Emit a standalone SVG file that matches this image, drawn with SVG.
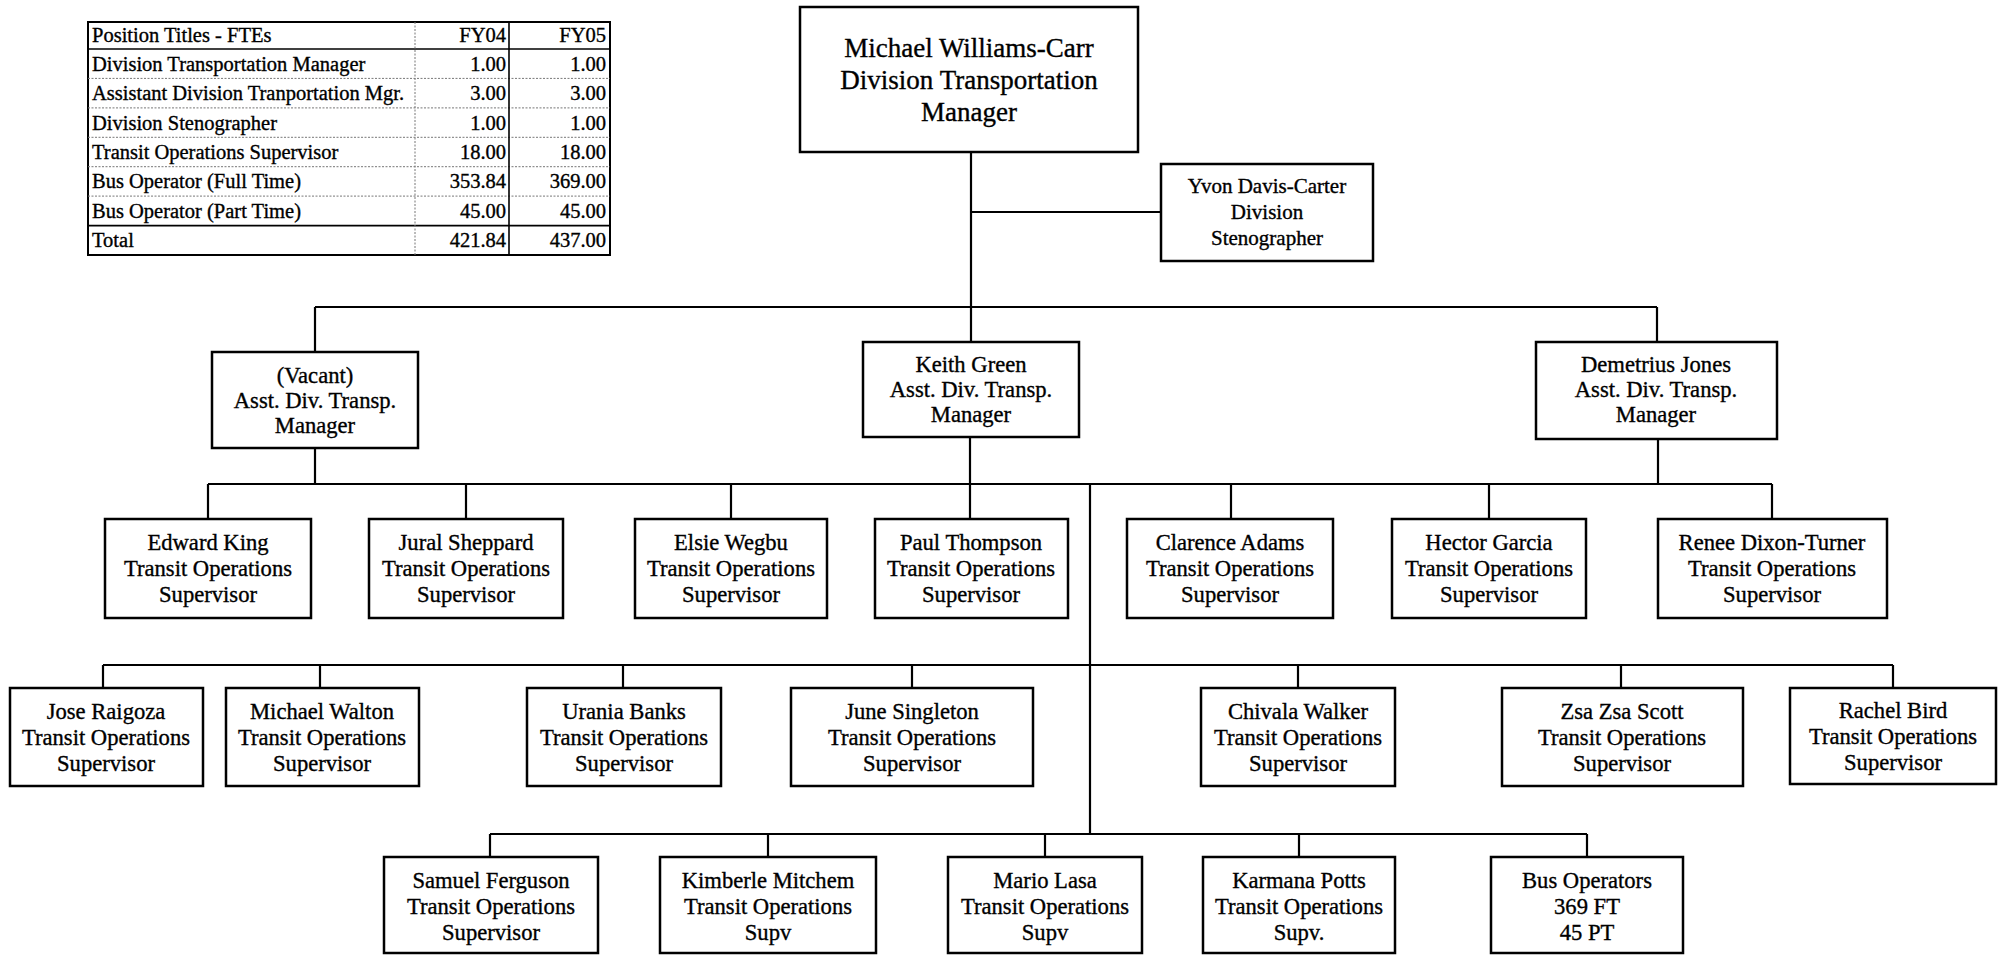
<svg xmlns="http://www.w3.org/2000/svg" width="2003" height="955" viewBox="0 0 2003 955">
<style>
text{font-family:"Liberation Serif","Times New Roman",serif;fill:#000;stroke:#000;stroke-width:0.35}
.n{font-size:22.6px;text-anchor:middle}
.top{font-size:27px;text-anchor:middle}
.st{font-size:21px;text-anchor:middle}
.t{font-size:20.5px}
.r{text-anchor:end}
.box{fill:#fff;stroke:#000;stroke-width:2.5}
.ln{stroke:#000;stroke-width:2.2;fill:none}
.dot{stroke:#777;stroke-width:1;stroke-dasharray:2 1.5;fill:none}
.sol{stroke:#000;stroke-width:1.6;fill:none}
</style>
<rect width="2003" height="955" fill="#fff"/>

<g id="fte-table">
<rect x="88" y="22" width="522" height="233" fill="#fff" stroke="#000" stroke-width="2"/>
<line class="sol" x1="88" y1="49" x2="610" y2="49"/>
<line class="dot" x1="88" y1="78.4" x2="610" y2="78.4"/>
<line class="dot" x1="88" y1="107.9" x2="610" y2="107.9"/>
<line class="dot" x1="88" y1="137.3" x2="610" y2="137.3"/>
<line class="dot" x1="88" y1="166.7" x2="610" y2="166.7"/>
<line class="dot" x1="88" y1="196.1" x2="610" y2="196.1"/>
<line class="sol" x1="88" y1="225.6" x2="610" y2="225.6"/>
<line class="dot" x1="415" y1="22" x2="415" y2="255"/>
<line class="sol" x1="509" y1="22" x2="509" y2="255"/>
<text class="t" x="92" y="42">Position Titles - FTEs</text>
<text class="t r" x="506" y="42">FY04</text>
<text class="t r" x="606" y="42">FY05</text>
<text class="t" x="92" y="71">Division Transportation Manager</text>
<text class="t r" x="506" y="71">1.00</text>
<text class="t r" x="606" y="71">1.00</text>
<text class="t" x="92" y="100">Assistant Division Tranportation Mgr.</text>
<text class="t r" x="506" y="100">3.00</text>
<text class="t r" x="606" y="100">3.00</text>
<text class="t" x="92" y="129.5">Division Stenographer</text>
<text class="t r" x="506" y="129.5">1.00</text>
<text class="t r" x="606" y="129.5">1.00</text>
<text class="t" x="92" y="159">Transit Operations Supervisor</text>
<text class="t r" x="506" y="159">18.00</text>
<text class="t r" x="606" y="159">18.00</text>
<text class="t" x="92" y="188">Bus Operator (Full Time)</text>
<text class="t r" x="506" y="188">353.84</text>
<text class="t r" x="606" y="188">369.00</text>
<text class="t" x="92" y="217.5">Bus Operator (Part Time)</text>
<text class="t r" x="506" y="217.5">45.00</text>
<text class="t r" x="606" y="217.5">45.00</text>
<text class="t" x="92" y="247">Total</text>
<text class="t r" x="506" y="247">421.84</text>
<text class="t r" x="606" y="247">437.00</text>
</g>

<g id="connectors">
<path class="ln" d="M971 152V342M971 212H1161"/>
<path class="ln" d="M315 307H1657M315 307V352M1657 307V342"/>
<path class="ln" d="M315 448V484M970 437V519M1658 439V484M208 484H1772"/>
<path class="ln" d="M208 484V519M466 484V519M731 484V519M1231 484V519M1489 484V519M1772 484V519"/>
<path class="ln" d="M1090 484V834"/>
<path class="ln" d="M103 665H1893M103 665V688M320 665V688M623 665V688M912 665V688M1298 665V688M1621 665V688M1893 665V688"/>
<path class="ln" d="M490 834H1587M490 834V857M768 834V857M1045 834V857M1299 834V857M1587 834V857"/>
</g>

<g id="n-williams-carr">
<rect class="box" x="800" y="7" width="338" height="145"/>
<text class="top" x="969" y="57">Michael Williams-Carr</text>
<text class="top" x="969" y="89">Division Transportation</text>
<text class="top" x="969" y="121">Manager</text>
</g>
<g id="n-davis-carter">
<rect class="box" x="1161" y="164" width="212" height="97"/>
<text class="st" x="1267" y="193">Yvon Davis-Carter</text>
<text class="st" x="1267" y="219">Division</text>
<text class="st" x="1267" y="245">Stenographer</text>
</g>

<g id="n-vacant">
<rect class="box" x="212" y="352" width="206" height="96"/>
<text class="n" x="315" y="383">(Vacant)</text>
<text class="n" x="315" y="408">Asst. Div. Transp.</text>
<text class="n" x="315" y="433">Manager</text>
</g>
<g id="n-green">
<rect class="box" x="863" y="342" width="216" height="95"/>
<text class="n" x="971" y="372">Keith Green</text>
<text class="n" x="971" y="397">Asst. Div. Transp.</text>
<text class="n" x="971" y="422">Manager</text>
</g>
<g id="n-jones">
<rect class="box" x="1536" y="342" width="241" height="97"/>
<text class="n" x="1656" y="372">Demetrius Jones</text>
<text class="n" x="1656" y="397">Asst. Div. Transp.</text>
<text class="n" x="1656" y="422">Manager</text>
</g>

<g id="n-king">
<rect class="box" x="105" y="519" width="206" height="99"/>
<text class="n" x="208" y="550">Edward King</text>
<text class="n" x="208" y="576">Transit Operations</text>
<text class="n" x="208" y="602">Supervisor</text>
</g>
<g id="n-sheppard">
<rect class="box" x="369" y="519" width="194" height="99"/>
<text class="n" x="466" y="550">Jural Sheppard</text>
<text class="n" x="466" y="576">Transit Operations</text>
<text class="n" x="466" y="602">Supervisor</text>
</g>
<g id="n-wegbu">
<rect class="box" x="635" y="519" width="192" height="99"/>
<text class="n" x="731" y="550">Elsie Wegbu</text>
<text class="n" x="731" y="576">Transit Operations</text>
<text class="n" x="731" y="602">Supervisor</text>
</g>
<g id="n-thompson">
<rect class="box" x="875" y="519" width="193" height="99"/>
<text class="n" x="971" y="550">Paul Thompson</text>
<text class="n" x="971" y="576">Transit Operations</text>
<text class="n" x="971" y="602">Supervisor</text>
</g>
<g id="n-adams">
<rect class="box" x="1127" y="519" width="206" height="99"/>
<text class="n" x="1230" y="550">Clarence Adams</text>
<text class="n" x="1230" y="576">Transit Operations</text>
<text class="n" x="1230" y="602">Supervisor</text>
</g>
<g id="n-garcia">
<rect class="box" x="1392" y="519" width="194" height="99"/>
<text class="n" x="1489" y="550">Hector Garcia</text>
<text class="n" x="1489" y="576">Transit Operations</text>
<text class="n" x="1489" y="602">Supervisor</text>
</g>
<g id="n-dixon-turner">
<rect class="box" x="1658" y="519" width="229" height="99"/>
<text class="n" x="1772" y="550">Renee Dixon-Turner</text>
<text class="n" x="1772" y="576">Transit Operations</text>
<text class="n" x="1772" y="602">Supervisor</text>
</g>

<g id="n-raigoza">
<rect class="box" x="10" y="688" width="193" height="98"/>
<text class="n" x="106" y="719">Jose Raigoza</text>
<text class="n" x="106" y="745">Transit Operations</text>
<text class="n" x="106" y="771">Supervisor</text>
</g>
<g id="n-walton">
<rect class="box" x="226" y="688" width="193" height="98"/>
<text class="n" x="322" y="719">Michael Walton</text>
<text class="n" x="322" y="745">Transit Operations</text>
<text class="n" x="322" y="771">Supervisor</text>
</g>
<g id="n-banks">
<rect class="box" x="527" y="688" width="194" height="98"/>
<text class="n" x="624" y="719">Urania Banks</text>
<text class="n" x="624" y="745">Transit Operations</text>
<text class="n" x="624" y="771">Supervisor</text>
</g>
<g id="n-singleton">
<rect class="box" x="791" y="688" width="242" height="98"/>
<text class="n" x="912" y="719">June Singleton</text>
<text class="n" x="912" y="745">Transit Operations</text>
<text class="n" x="912" y="771">Supervisor</text>
</g>
<g id="n-walker">
<rect class="box" x="1201" y="688" width="194" height="98"/>
<text class="n" x="1298" y="719">Chivala Walker</text>
<text class="n" x="1298" y="745">Transit Operations</text>
<text class="n" x="1298" y="771">Supervisor</text>
</g>
<g id="n-scott">
<rect class="box" x="1502" y="688" width="241" height="98"/>
<text class="n" x="1622" y="719">Zsa Zsa Scott</text>
<text class="n" x="1622" y="745">Transit Operations</text>
<text class="n" x="1622" y="771">Supervisor</text>
</g>
<g id="n-bird">
<rect class="box" x="1790" y="688" width="206" height="96"/>
<text class="n" x="1893" y="718">Rachel Bird</text>
<text class="n" x="1893" y="744">Transit Operations</text>
<text class="n" x="1893" y="770">Supervisor</text>
</g>

<g id="n-ferguson">
<rect class="box" x="384" y="857" width="214" height="96"/>
<text class="n" x="491" y="888">Samuel Ferguson</text>
<text class="n" x="491" y="914">Transit Operations</text>
<text class="n" x="491" y="940">Supervisor</text>
</g>
<g id="n-mitchem">
<rect class="box" x="660" y="857" width="216" height="96"/>
<text class="n" x="768" y="888">Kimberle Mitchem</text>
<text class="n" x="768" y="914">Transit Operations</text>
<text class="n" x="768" y="940">Supv</text>
</g>
<g id="n-lasa">
<rect class="box" x="948" y="857" width="194" height="96"/>
<text class="n" x="1045" y="888">Mario Lasa</text>
<text class="n" x="1045" y="914">Transit Operations</text>
<text class="n" x="1045" y="940">Supv</text>
</g>
<g id="n-potts">
<rect class="box" x="1203" y="857" width="192" height="96"/>
<text class="n" x="1299" y="888">Karmana Potts</text>
<text class="n" x="1299" y="914">Transit Operations</text>
<text class="n" x="1299" y="940">Supv.</text>
</g>
<g id="n-bus-operators">
<rect class="box" x="1491" y="857" width="192" height="96"/>
<text class="n" x="1587" y="888">Bus Operators</text>
<text class="n" x="1587" y="914">369 FT</text>
<text class="n" x="1587" y="940">45 PT</text>
</g>
</svg>
